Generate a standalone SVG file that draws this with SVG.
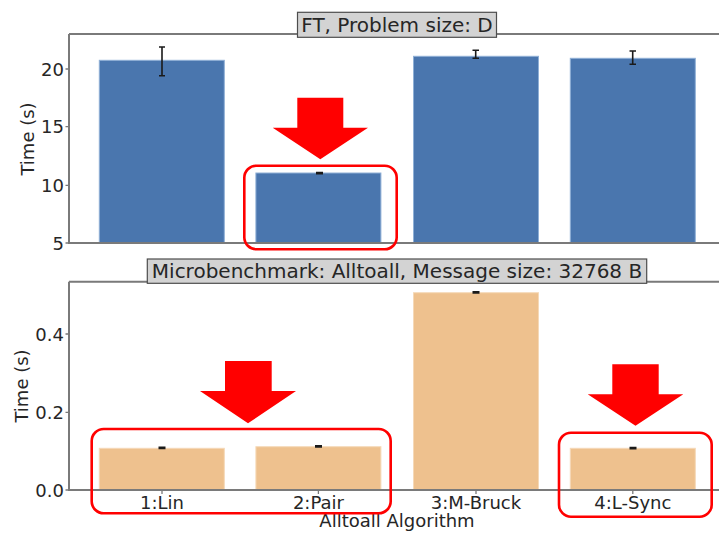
<svg xmlns="http://www.w3.org/2000/svg" width="719" height="533" viewBox="0 0 719 533">
<style>
text{font-family:"DejaVu Sans","Liberation Sans",sans-serif;fill:#262626}
.tick{font-size:18px;text-anchor:end}
.xt{font-size:18px;text-anchor:middle}
.lab{font-size:18px;text-anchor:middle}
.ttl{font-size:20px;text-anchor:middle}
.spine{stroke:#7a7a7a;stroke-width:2;fill:none}
.tk{stroke:#7a7a7a;stroke-width:1.3}
.blue{fill:#4a76ae;stroke:#8fb0d6;stroke-width:1}
.peach{fill:#eec18e;stroke:#f5d9b8;stroke-width:1}
.err{stroke:#1a1a1a;stroke-width:1.6;fill:none}
.tbox{fill:#d3d3d3;stroke:#4d4d4d;stroke-width:1.2}
.hl{fill:none;stroke:#ff0000;stroke-width:2.6}
.arr{fill:#ff0000}
</style>

<g id="top-plot">
  <g id="top-bars">
    <rect class="blue" x="99.3" y="60.3" width="125" height="182.7"/>
    <rect class="blue" x="255.9" y="173" width="125" height="70"/>
    <rect class="blue" x="413.5" y="56.3" width="125" height="186.7"/>
    <rect class="blue" x="570.3" y="58.3" width="125" height="184.7"/>
  </g>
  <g id="top-errors" class="err">
    <path d="M162 47V75.7M159 47H165M159 75.7H165"/>
    <path d="M316 172.5H323M316 173.6H323"/>
    <path d="M475.7 50.3V58.3M472.5 50.3H479M472.5 58.3H479"/>
    <path d="M632.7 51V64.3M629.5 51H636M629.5 64.3H636"/>
  </g>
  <path class="spine" d="M69 34V243H719M69 34H719"/>
  <g id="top-yticks">
    <path class="tk" d="M65.5 69H69M65.5 126.7H69M65.5 185.3H69M65.5 243H69"/>
    <text class="tick" x="64" y="75.5">20</text>
    <text class="tick" x="64" y="133.2">15</text>
    <text class="tick" x="64" y="191.8">10</text>
    <text class="tick" x="64" y="249.5">5</text>
  </g>
  <text class="lab" transform="translate(33.5,139) rotate(-90)">Time (s)</text>
  <g id="top-title">
    <rect class="tbox" x="297.5" y="12.3" width="199" height="25"/>
    <text class="ttl" x="397" y="31.5">FT, Problem size: D</text>
  </g>
</g>

<g id="bottom-plot">
  <g id="bottom-bars">
    <rect class="peach" x="99.3" y="448.3" width="125" height="41.7"/>
    <rect class="peach" x="255.9" y="446.7" width="125" height="43.3"/>
    <rect class="peach" x="413.5" y="292.7" width="125" height="197.3"/>
    <rect class="peach" x="570.3" y="448.3" width="125" height="41.7"/>
  </g>
  <g id="bottom-errors" class="err">
    <path d="M158.5 447.3H165.5M158.5 448.4H165.5"/>
    <path d="M315 445.8H322M315 446.9H322"/>
    <path d="M472.5 291.8H479.5M472.5 292.9H479.5"/>
    <path d="M629.5 447.5H636.5M629.5 448.6H636.5"/>
  </g>
  <path class="spine" d="M69 281.7V490H719M69 281.7H719"/>
  <g id="bottom-yticks">
    <path class="tk" d="M65.5 334H69M65.5 412.3H69M65.5 490H69"/>
    <text class="tick" x="64" y="340.5">0.4</text>
    <text class="tick" x="64" y="418.8">0.2</text>
    <text class="tick" x="64" y="496.5">0.0</text>
  </g>
  <g id="bottom-xticks">
    <path class="tk" d="M162 490V494M318.4 490V494M476 490V494M632.8 490V494"/>
    <text class="xt" x="162" y="508.5">1:Lin</text>
    <text class="xt" x="318.4" y="508.5">2:Pair</text>
    <text class="xt" x="476" y="508.5">3:M-Bruck</text>
    <text class="xt" x="632.8" y="508.5">4:L-Sync</text>
  </g>
  <text class="lab" x="397" y="527">Alltoall Algorithm</text>
  <text class="lab" transform="translate(27.5,386) rotate(-90)">Time (s)</text>
  <g id="bottom-title">
    <rect class="tbox" x="147.3" y="259" width="499.4" height="24.3"/>
    <text class="ttl" x="397" y="277.5">Microbenchmark: Alltoall, Message size: 32768 B</text>
  </g>
</g>

<g id="highlights">
  <rect id="hl-top" class="hl" x="244.3" y="165.7" width="152.4" height="83.6" rx="12"/>
  <rect id="hl-left" class="hl" x="91.7" y="429" width="299" height="84.3" rx="12"/>
  <rect id="hl-right" class="hl" x="559" y="432.7" width="152.7" height="84" rx="12"/>
</g>

<g id="connectors">
  <polygon class="arr" points="297.3,97.7 343.3,97.7 343.3,127.7 368,127.7 320.3,159.3 272.7,127.7 297.3,127.7"/>
  <polygon class="arr" points="225,361 271.7,361 271.7,391 296,391 248,423.3 200,391 225,391"/>
  <polygon class="arr" points="612.3,364.3 658.7,364.3 658.7,394.3 683.3,394.3 635.5,425.7 587.7,394.3 612.3,394.3"/>
</g>
</svg>
